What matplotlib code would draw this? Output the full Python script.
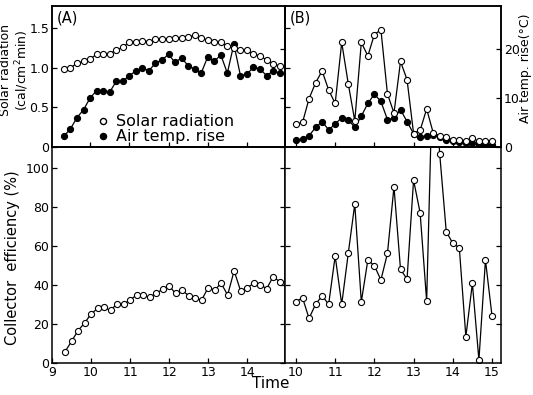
import numpy as np
import matplotlib
matplotlib.use('Agg')
import matplotlib.pyplot as plt
from matplotlib.lines import Line2D

# Sampling clock times (10 min steps).
clock_a = ['9:20', '9:30', '9:40', '9:50', '10:00', '10:10', '10:20', '10:30', '10:40', '10:50',
           '11:00', '11:10', '11:20', '11:30', '11:40', '11:50', '12:00', '12:10', '12:20', '12:30',
           '12:40', '12:50', '13:00', '13:10', '13:20', '13:30', '13:40', '13:50', '14:00', '14:10',
           '14:20', '14:30', '14:40', '14:50']
clock_b = ['10:00', '10:10', '10:20', '10:30', '10:40', '10:50', '11:00', '11:10', '11:20', '11:30',
           '11:40', '11:50', '12:00', '12:10', '12:20', '12:30', '12:40', '12:50', '13:00', '13:10',
           '13:20', '13:30', '13:40', '13:50', '14:00', '14:10', '14:20', '14:30', '14:40', '14:50',
           '15:00']

# (A) clear day
solar_a = [0.98, 1.00, 1.055, 1.08, 1.11, 1.17, 1.17, 1.18, 1.22, 1.26, 1.32, 1.33, 1.34, 1.33,
           1.36, 1.36, 1.36, 1.38, 1.38, 1.39, 1.41, 1.37, 1.35, 1.33, 1.32, 1.27, 1.25, 1.22,
           1.22, 1.17, 1.15, 1.10, 1.05, 1.02]
airtemp_a = [2.2, 3.7, 6.0, 7.6, 10.0, 11.5, 11.4, 11.2, 13.4, 13.4, 14.6, 15.5, 16.1, 15.6,
             17.1, 17.8, 18.9, 17.3, 18.2, 16.6, 15.9, 15.1, 18.4, 17.5, 18.8, 15.1, 21.0, 14.6,
             14.9, 16.3, 15.9, 14.6, 15.5, 15.1]
eff_a = [5.8, 11.1, 16.6, 20.5, 25.1, 28.0, 28.5, 27.0, 30.4, 30.1, 32.3, 34.9, 34.7, 33.7,
         35.7, 37.8, 39.5, 35.7, 37.4, 34.5, 33.3, 32.3, 38.6, 37.4, 40.9, 34.9, 47.3, 36.9,
         38.5, 40.9, 40.2, 38.1, 44.3, 41.7]

# (B) cloudy day
solar_b = [0.29, 0.31, 0.61, 0.81, 0.96, 0.72, 0.55, 1.32, 0.80, 0.33, 1.32, 1.15, 1.42, 1.48,
           0.67, 0.43, 1.08, 0.85, 0.17, 0.21, 0.48, 0.18, 0.14, 0.12, 0.09, 0.09, 0.08, 0.11,
           0.07, 0.08, 0.07]
airtemp_b = [1.4, 1.7, 2.3, 4.0, 5.2, 3.5, 4.7, 6.0, 5.6, 4.0, 6.3, 8.9, 10.8, 9.3, 5.6, 5.9,
             7.6, 5.2, 2.7, 2.1, 2.2, 2.5, 2.0, 1.5, 1.2, 1.0, 0.9, 0.8, 0.7, 0.6, 0.5]
eff_b = [31.4, 33.5, 22.9, 30.1, 34.5, 30.1, 54.9, 30.1, 56.2, 81.5, 31.4, 52.8, 49.9, 42.6,
         56.2, 90.4, 48.0, 43.1, 93.8, 77.1, 31.8, 160.0, 107.2, 67.4, 61.4, 59.1, 13.5, 40.9,
         1.5, 52.8, 24.3]


def to_hours(clock):
    return [int(c.split(':')[0]) + int(c.split(':')[1]) / 60 for c in clock]


t_a = to_hours(clock_a)
t_b = to_hours(clock_b)

plt.rcParams['font.family'] = 'DejaVu Sans'
plt.rcParams['font.size'] = 10

W, H = 533, 395
fig = plt.figure(figsize=(W / 100, H / 100), dpi=100)


def box(x0, y0, x1, y1):
    return [x0 / W, 1 - y1 / H, (x1 - x0) / W, (y1 - y0) / H]


def px_text(x, y, s, **kw):
    fig.text(x / W, 1 - y / H, s, ha='center', va='center', **kw)


ax_a = fig.add_axes(box(52, 6, 285, 147))
ax_b = fig.add_axes(box(285, 6, 501, 147))
ax_c = fig.add_axes(box(52, 147, 285, 363))
ax_d = fig.add_axes(box(285, 147, 501, 363))

line_kw = dict(color='black', lw=0.9, markersize=4.4, markeredgewidth=0.8)
open_kw = dict(marker='o', markerfacecolor='white', markeredgecolor='black', **line_kw)
fill_kw = dict(marker='o', markerfacecolor='black', markeredgecolor='black', **line_kw)

xlim_left = (9.03, 14.97)
xlim_right = (9.72, 15.23)
ylim_solar = (0, 1.78)
ylim_temp = (0, 28.8)
ylim_eff = (0, 110.8)

# (A)
ax_a2 = ax_a.twinx()
ax_a2.plot(t_a, airtemp_a, zorder=2, **fill_kw)
ax_a.plot(t_a, solar_a, zorder=3, **open_kw)
ax_a.set_zorder(ax_a2.get_zorder() + 1)
ax_a.patch.set_visible(False)
ax_a.set_xlim(xlim_left)
ax_a.set_ylim(ylim_solar)
ax_a2.set_ylim(ylim_temp)
ax_a.set_yticks([0, 0.5, 1.0, 1.5])
ax_a.set_yticklabels(['0', '0.5', '1.0', '1.5'])
ax_a.set_xticks([10, 11, 12, 13, 14])
ax_a.set_xticklabels([])
ax_a2.set_yticks([0, 10, 20])
ax_a2.set_yticklabels([])
ax_a.text(0.02, 0.97, '(A)', transform=ax_a.transAxes, ha='left', va='top', fontsize=10.5)
handles = [Line2D([], [], linestyle='none', marker='o', markerfacecolor='white',
                  markeredgecolor='black', markersize=4.4),
           Line2D([], [], linestyle='none', marker='o', markerfacecolor='black',
                  markeredgecolor='black', markersize=4.4)]
ax_a.legend(handles, ['Solar radiation', 'Air temp. rise'], loc='lower left',
            bbox_to_anchor=(0.15, -0.06), frameon=False, handlelength=0.6,
            handletextpad=0.5, labelspacing=0.0, borderpad=0.2, fontsize=11.5)

# (B)
ax_b2 = ax_b.twinx()
ax_b2.plot(t_b, airtemp_b, zorder=2, **fill_kw)
ax_b.plot(t_b, solar_b, zorder=3, **open_kw)
ax_b.set_zorder(ax_b2.get_zorder() + 1)
ax_b.patch.set_visible(False)
ax_b.set_xlim(xlim_right)
ax_b.set_ylim(ylim_solar)
ax_b2.set_ylim(ylim_temp)
ax_b.set_yticks([0.5, 1.0, 1.5])
ax_b.set_yticklabels([])
ax_b.set_xticks([10, 11, 12, 13, 14, 15])
ax_b.set_xticklabels([])
ax_b2.set_yticks([0, 10, 20])
ax_b2.set_yticklabels(['0', '10', '20'])
ax_b.text(0.02, 0.97, '(B)', transform=ax_b.transAxes, ha='left', va='top', fontsize=10.5)

# (C) collector efficiency, clear day
ax_c.plot(t_a, eff_a, **open_kw)
ax_c.set_xlim(xlim_left)
ax_c.set_ylim(ylim_eff)
ax_c.set_xticks([9, 10, 11, 12, 13, 14])
ax_c.set_yticks([0, 20, 40, 60, 80, 100])
ax_c.tick_params(right=True)

# (D) collector efficiency, cloudy day
ax_d.plot(t_b, eff_b, clip_on=True, **open_kw)
ax_d.set_xlim(xlim_right)
ax_d.set_ylim(ylim_eff)
ax_d.set_xticks([10, 11, 12, 13, 14, 15])
ax_d.set_yticks([20, 40, 60, 80, 100])
ax_d.set_yticklabels([])
ax_d.tick_params(right=True)

for ax in [ax_a, ax_b, ax_c, ax_d, ax_a2, ax_b2]:
    ax.tick_params(direction='in', length=3.5, width=0.9, labelsize=9, pad=2)
    for s in ax.spines.values():
        s.set_linewidth(1.1)

# axis titles
px_text(15, 70, 'Solar radiation\n(cal/cm$^2$min)', rotation=90, fontsize=9,
        linespacing=1.1, multialignment='center')
px_text(13, 258, 'Collector  efficiency (%)', rotation=90, fontsize=10.5)
px_text(525, 68, 'Air temp. rise(\u00b0C)', rotation=90, fontsize=9)
px_text(271, 383, 'Time', fontsize=11)

fig.savefig('out.png', dpi=100)
